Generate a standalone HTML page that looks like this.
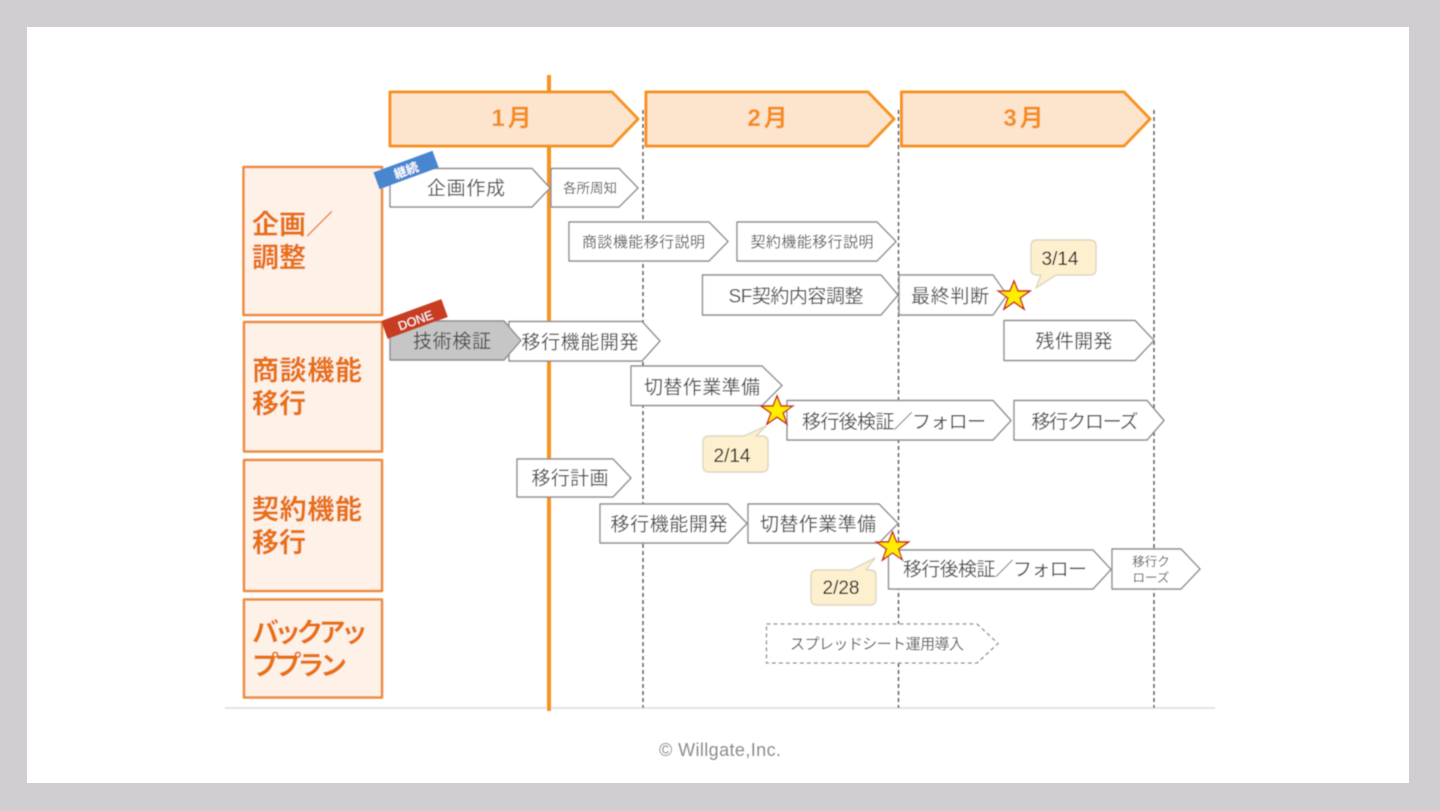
<!DOCTYPE html>
<html lang="ja"><head><meta charset="utf-8"><title>Schedule</title>
<style>
html,body{margin:0;padding:0;width:1440px;height:811px;overflow:hidden;background:#d0ced0}
svg{display:block}
text{font-family:"Liberation Sans","Noto Sans CJK JP",sans-serif}
.p{fill:#fff;stroke:#8c8c8c;stroke-width:1.4;stroke-linejoin:round}
.t{font-size:19px;fill:#4d4d4d;text-anchor:middle}
.s{font-size:15px;fill:#555;text-anchor:middle}
.m{font-size:24px;font-weight:700;fill:#f68b1f;text-anchor:middle;letter-spacing:3px}
.h{fill:#fdf1e8;stroke:#ee8a3c;stroke-width:2.5;stroke-linejoin:round}
.c{font-size:27px;font-weight:700;fill:#e8700a}
.mo{fill:#fde5cd;stroke:#f7931e;stroke-width:3;stroke-linejoin:round}
.v{stroke:#555;stroke-width:1.4;stroke-dasharray:4 3}
.star{fill:#ffee00;stroke:#c8281e;stroke-width:1.4;stroke-linejoin:miter}
.call{fill:#fdf0cf;stroke:#ddd6c0;stroke-width:1.4;stroke-linejoin:round}
.ct{font-size:19px;fill:#111;text-anchor:middle}
</style></head><body>
<svg width="1440" height="811" viewBox="0 0 1440 811" xmlns="http://www.w3.org/2000/svg">
<defs><filter id="b" x="-2%" y="-2%" width="104%" height="104%"><feGaussianBlur stdDeviation="0.45"/></filter></defs>
<rect x="0" y="0" width="1440" height="811" fill="#d0ced0"/>
<rect x="27" y="27" width="1382" height="756" fill="#fff"/>
<g filter="url(#b)">
<line x1="225" y1="708" x2="1215" y2="708" stroke="#e3e3e3" stroke-width="2"/>
<line class="v" x1="643" y1="110" x2="643" y2="708"/>
<line class="v" x1="898.5" y1="110" x2="898.5" y2="708"/>
<line class="v" x1="1154" y1="110" x2="1154" y2="708"/>
<line x1="549" y1="75" x2="549" y2="711" stroke="#f7931e" stroke-width="4"/>

<polygon class="mo" points="390,92 612,92 638,119 612,146 390,146"/>
<polygon class="mo" points="646,92 868,92 894,119 868,146 646,146"/>
<polygon class="mo" points="901.5,92 1124,92 1150,119 1124,146 901.5,146"/>
<text class="m" x="513" y="126">1月</text>
<text class="m" x="769" y="126">2月</text>
<text class="m" x="1025" y="126">3月</text>

<rect class="h" x="243.5" y="167" width="138.5" height="148"/>
<rect class="h" x="244" y="322" width="138" height="129.5"/>
<rect class="h" x="244" y="460" width="138" height="131"/>
<rect class="h" x="244" y="599.5" width="138" height="98"/>
<text class="c" x="252" y="234">企画／</text>
<text class="c" x="252" y="267">調整</text>
<text class="c" x="252" y="380" textLength="110">商談機能</text>
<text class="c" x="252" y="413">移行</text>
<text class="c" x="252" y="519" textLength="110">契約機能</text>
<text class="c" x="252" y="552">移行</text>
<text class="c" x="252" y="642" textLength="116">バックアッ</text>
<text class="c" x="252" y="675" textLength="95">ププラン</text>

<polygon class="p" points="390,168.5 532,168.5 550,188 532,207 390,207"/>
<text class="t" x="466" y="194.500" textLength="78">企画作成</text>
<polygon class="p" points="551,168.5 619,168.5 638,188 619,207 551,207"/>
<text class="s" x="590" y="193" style="font-size:13.5px" textLength="54">各所周知</text>
<polygon class="p" points="569,222 709,222 728,241.5 709,261 569,261"/>
<text class="s" x="643.5" y="247" textLength="123">商談機能移行説明</text>
<polygon class="p" points="737,222 877,222 896,241.5 877,261 737,261"/>
<text class="s" x="812" y="247" textLength="123">契約機能移行説明</text>
<polygon class="p" points="702.500,275 881,275 898,295 881,315 702.500,315"/>
<text class="t" x="796" y="302.500" textLength="135">SF契約内容調整</text>
<polygon class="p" points="899,275 993,275 1007,295 993,315 899,315"/>
<text class="t" x="950" y="302.500" textLength="78">最終判断</text>

<polygon class="p" points="509,321.500 642,321.500 660,341 642,361 509,361"/>
<text class="t" x="580" y="348.500" textLength="117">移行機能開発</text>
<polygon points="390,321 504,321 521,340.500 504,360 390,360" fill="#c6c6c6" stroke="#8c8c8c" stroke-width="1.4" stroke-linejoin="round"/>
<text class="t" x="452" y="347.500" textLength="78">技術検証</text>
<polygon class="p" points="1004,320.500 1135,320.500 1154,340.500 1135,360.500 1004,360.500"/>
<text class="t" x="1074" y="347.500" textLength="77">残件開発</text>
<polygon class="p" points="631,366 762,366 782,385.500 762,405.500 631,405.500"/>
<text class="t" x="702" y="393.500" textLength="116">切替作業準備</text>
<polygon class="p" points="787,400.500 993,400.500 1011,420.500 993,440 787,440"/>
<text class="t" x="894" y="428" textLength="184">移行後検証／フォロー</text>
<polygon class="p" points="1014,400.500 1147,400.500 1164,420.500 1147,440 1014,440"/>
<text class="t" x="1085" y="428" textLength="107">移行クローズ</text>
<polygon class="p" points="517,459 613,459 631,478 613,497 517,497"/>
<text class="t" x="570" y="484.500" textLength="77">移行計画</text>
<polygon class="p" points="600,504 728,504 747,523.500 728,543 600,543"/>
<text class="t" x="669" y="530.500" textLength="117">移行機能開発</text>
<polygon class="p" points="748,504 879,504 898,523.500 879,543 748,543"/>
<text class="t" x="818" y="530.500" textLength="116">切替作業準備</text>
<polygon class="p" points="888.500,550 1093,550 1111,569.500 1093,589 888.500,589"/>
<text class="t" x="995" y="575.500" textLength="184">移行後検証／フォロー</text>
<polygon class="p" points="1112,549 1181,549 1200,569 1181,589 1112,589"/>
<text class="s" x="1151" y="566" style="font-size:12.5px">移行ク</text>
<text class="s" x="1151" y="582" style="font-size:12.5px">ローズ</text>
<polygon points="766.500,624 977,624 998,643.500 977,663 766.500,663" fill="#fff" stroke="#8c8c8c" stroke-width="1.3" stroke-dasharray="4 3"/>
<text class="s" x="877" y="649" textLength="174">スプレッドシート運用導入</text>

<g transform="rotate(-20 406 170)"><rect x="374.500" y="161" width="63" height="18" fill="#4a86d0"/>
<text x="406" y="175" text-anchor="middle" style="font-size:12.5px;font-weight:700;fill:#fff">継続</text></g>
<g transform="rotate(-20 414.500 319)"><rect x="382.500" y="309.500" width="64" height="19" fill="#c83c24"/>
<text x="415" y="325" text-anchor="middle" style="font-size:12.5px;fill:#fff">DONE</text></g>

<path class="call" d="M1037,240 H1090 Q1096,240 1096,246 V269 Q1096,275 1090,275 H1056 L1036,288 L1041,275 H1037 Q1031,275 1031,269 V246 Q1031,240 1037,240 Z"/>
<text class="ct" x="1060" y="265">3/14</text>
<path class="call" d="M709,436 H744 L766,426 L756,436 H762 Q768,436 768,442 V466 Q768,472 762,472 H709 Q703,472 703,466 V442 Q703,436 709,436 Z"/>
<text class="ct" x="732" y="462">2/14</text>
<path class="call" d="M817,570 H851 L875,558 L866,570 H870 Q876,570 876,576 V599 Q876,605 870,605 H817 Q811,605 811,599 V576 Q811,570 817,570 Z"/>
<text class="ct" x="841" y="594">2/28</text>

<polygon class="star" points="1014,281 1018,291 1030,291 1020,298 1024,309 1014,302 1004,309 1008,298 998,291 1010,291"/>
<polygon class="star" points="777,396 781,406 793,406 783,413 787,424 777,417 767,424 771,413 761,406 773,406"/>
<polygon class="star" points="892.500,532 896.500,542 908.500,542 898.500,549 902.500,560 892.500,553 882.500,560 886.500,549 876.500,542 888.500,542"/>

<text x="720" y="756" text-anchor="middle" textLength="122" style="font-size:18px;fill:#8c8c8c">© Willgate,Inc.</text>
</g>
</svg>
</body></html>
